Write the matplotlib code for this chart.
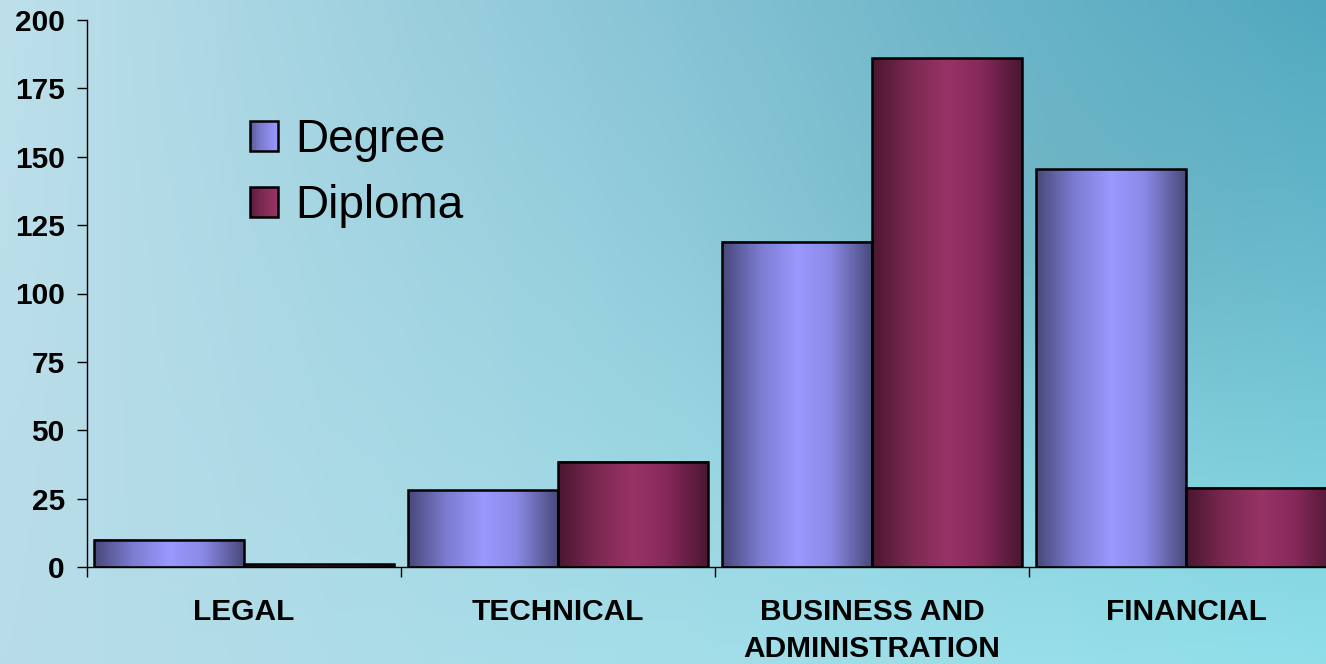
import numpy as np
import matplotlib
matplotlib.use("Agg")
import matplotlib.pyplot as plt
from matplotlib.colors import LinearSegmentedColormap, to_rgb
from matplotlib.patches import Rectangle
from matplotlib.legend_handler import HandlerBase

# ---- data ----
categories = ["LEGAL", "TECHNICAL", "BUSINESS AND\nADMINISTRATION", "FINANCIAL"]
series_names = ["Degree", "Diploma"]
degree = [10, 28, 119, 145.5]
diploma = [1, 38.5, 186, 29]
y_ticks = [0, 25, 50, 75, 100, 125, 150, 175, 200]

# ---- styles ----
plt.rcParams['font.family'] = ['Liberation Sans', 'DejaVu Sans']
deg_cols = ["#48487a", "#7b7bd0", "#9999ff", "#8a8ae6", "#48487a"]
dip_cols = ["#4a1630", "#7a2850", "#993366", "#86295a", "#4a1630"]
deg_cmap = LinearSegmentedColormap.from_list("deg", list(zip([0, 0.25, 0.5, 0.72, 1], deg_cols)))
dip_cmap = LinearSegmentedColormap.from_list("dip", list(zip([0, 0.25, 0.5, 0.72, 1], dip_cols)))

W, H = 1326, 664
fig = plt.figure(figsize=(W / 100, H / 100), dpi=100)

# background gradient
bg = fig.add_axes([0, 0, 1, 1], zorder=-5)
bg.set_axis_off()
ny, nx = 60, 120
yy, xx = np.mgrid[0:1:ny * 1j, 0:1:nx * 1j]
tl, tr = np.array(to_rgb("#bde0eb")), np.array(to_rgb("#52a9c0"))
bl, br = np.array(to_rgb("#b8dce8")), np.array(to_rgb("#8fdfe9"))
img = ((1 - xx)[..., None] * (1 - yy)[..., None] * tl + xx[..., None] * (1 - yy)[..., None] * tr
       + (1 - xx)[..., None] * yy[..., None] * bl + xx[..., None] * yy[..., None] * br)
band = np.exp(-((xx - 0.78) ** 2) / 0.04 - ((yy - 0.35) ** 2) / 0.08)[..., None]
img = img * (1 - 0.06 * band)
bg.imshow(np.clip(img, 0, 1), extent=[0, 1, 0, 1], aspect='auto', interpolation='bilinear')
bg.set_xlim(0, 1)
bg.set_ylim(0, 1)

ax = fig.add_axes([87 / W, 97 / H, 1256 / W, 547 / H])
ax.patch.set_alpha(0)

x = np.arange(len(categories))
w = 0.478
bars_deg = ax.bar(x - w / 2, degree, w, facecolor='none', edgecolor='black', linewidth=1.8, zorder=3)
bars_dip = ax.bar(x + w / 2, diploma, w, facecolor='none', edgecolor='black', linewidth=1.8, zorder=3)

grad = np.linspace(0, 1, 256).reshape(1, -1)
for bars, cmap in ((bars_deg, deg_cmap), (bars_dip, dip_cmap)):
    for b in bars:
        x0, bw, h = b.get_x(), b.get_width(), b.get_height()
        ax.imshow(grad, extent=[x0, x0 + bw, 0, h], aspect='auto', cmap=cmap,
                  interpolation='bilinear', zorder=2)

ax.set_xlim(-0.5, len(categories) - 0.5)
ax.set_ylim(0, 200)
ax.set_aspect('auto')

for s in ['top', 'right']:
    ax.spines[s].set_visible(False)
for s in ['left', 'bottom']:
    ax.spines[s].set_linewidth(1.0)
    ax.spines[s].set_zorder(4)

ax.set_yticks(y_ticks)
ax.set_yticklabels([str(t) for t in y_ticks], fontsize=21.5, fontweight='bold')
ax.tick_params(axis='y', direction='out', length=7, width=1, pad=9)

ax.set_xticks(x)
ax.set_xticklabels(categories, fontsize=21.5, fontweight='bold', linespacing=1.45)
ax.tick_params(axis='x', which='major', length=0, pad=22)
ax.set_xticks(np.arange(len(categories) + 1) - 0.5, minor=True)
ax.tick_params(axis='x', which='minor', direction='out', length=7, width=1)


class GradHandler(HandlerBase):
    def __init__(self, cmap):
        super().__init__()
        self.cmap = cmap

    def create_artists(self, legend, orig_handle, xdescent, ydescent, width, height, fontsize, trans):
        arts = []
        n = 20
        for i in range(n):
            c = self.cmap(0.1 + 0.4 * i / (n - 1))
            r = Rectangle((-xdescent + width * i / n, -ydescent), width / n + 0.3, height,
                          facecolor=c, edgecolor='none', transform=trans)
            arts.append(r)
        arts.append(Rectangle((-xdescent, -ydescent), width, height, facecolor='none',
                              edgecolor='black', linewidth=1.8, transform=trans))
        return arts


h1 = Rectangle((0, 0), 1, 1)
h2 = Rectangle((0, 0), 1, 1)
leg = fig.legend([h1, h2], series_names, loc='upper left',
                 bbox_to_anchor=(250 / W, 1 - 118 / H), frameon=False,
                 fontsize=33, handlelength=0.61, handleheight=0.63, handletextpad=0.37,
                 labelspacing=0.49, borderpad=0, borderaxespad=0,
                 handler_map={h1: GradHandler(deg_cmap), h2: GradHandler(dip_cmap)})

fig.savefig("out.png", dpi=100)
